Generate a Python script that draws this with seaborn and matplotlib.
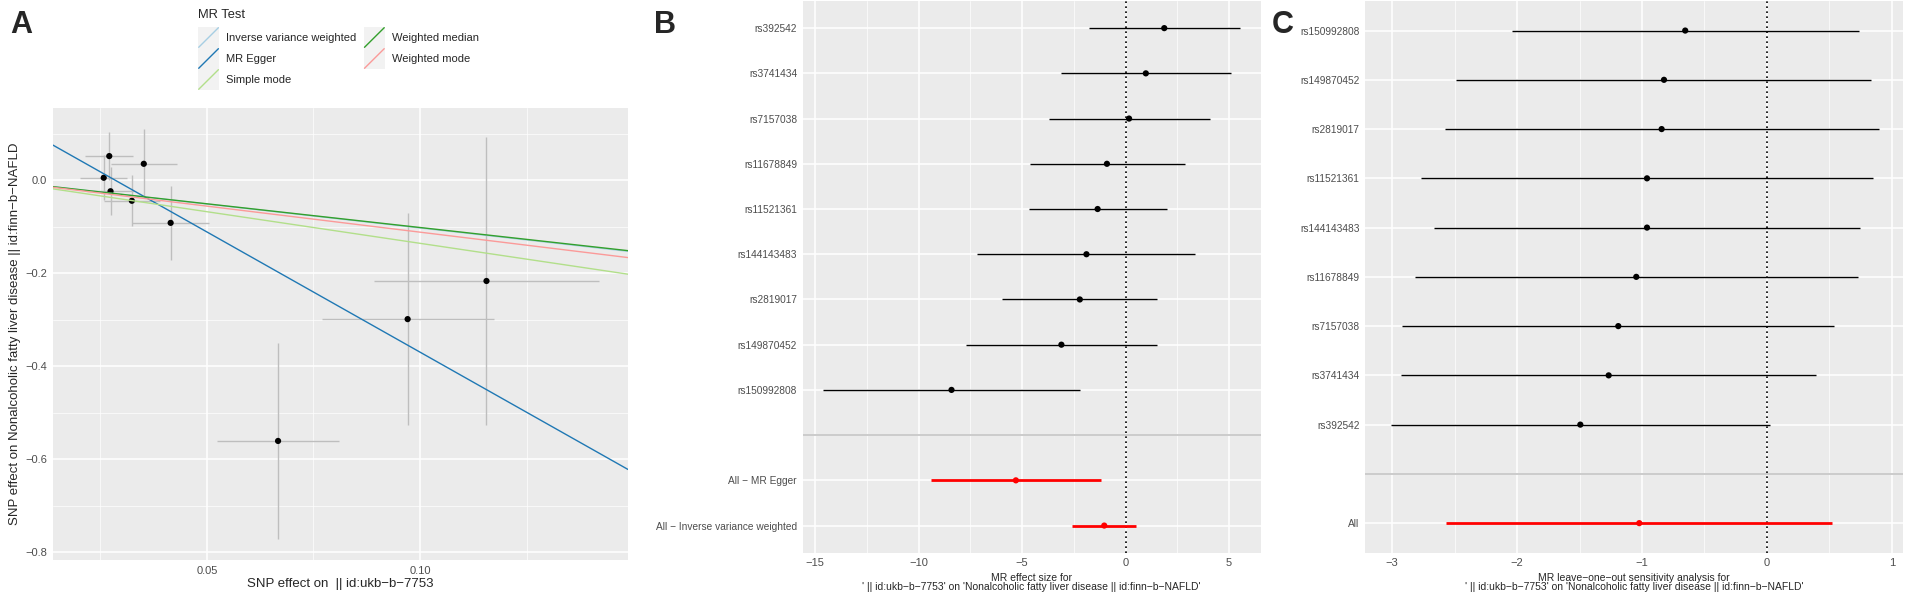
import numpy as np
import matplotlib
matplotlib.use("Agg")
import matplotlib.pyplot as plt
import seaborn as sns
from matplotlib.legend_handler import HandlerBase
from matplotlib.patches import Rectangle
from matplotlib.lines import Line2D

# ---------------- data: panel A (scatter) ----------------
snp_bx = [0.0258, 0.0271, 0.0352, 0.0274, 0.0324, 0.0415, 0.1156, 0.0971, 0.0667]
snp_by = [0.005, 0.0516, 0.035, -0.024, -0.0445, -0.092, -0.217, -0.299, -0.561]
snp_bx_se = [0.0055, 0.0056, 0.0077, 0.0055, 0.0065, 0.0091, 0.0263, 0.0202, 0.0143]
snp_by_se = [0.048, 0.051, 0.074, 0.052, 0.055, 0.079, 0.310, 0.228, 0.211]

methods = ["Inverse variance weighted", "MR Egger", "Simple mode",
           "Weighted median", "Weighted mode"]
method_slope = [-1.03, -5.17, -1.36, -1.02, -1.12]
method_intercept = [0.0, 0.147, 0.0, 0.0, 0.0]

# ---------------- data: panel B (forest) ----------------
b_snps = ["rs392542", "rs3741434", "rs7157038", "rs11678849", "rs11521361",
          "rs144143483", "rs2819017", "rs149870452", "rs150992808"]
b_est = [1.87, 0.98, 0.17, -0.90, -1.35, -1.89, -2.21, -3.10, -8.41]
b_lo = [-1.76, -3.13, -3.71, -4.63, -4.68, -7.16, -5.95, -7.69, -14.62]
b_hi = [5.51, 5.09, 4.06, 2.85, 1.98, 3.37, 1.51, 1.50, -2.18]
b_sum_labels = ["All \u2212 MR Egger", "All \u2212 Inverse variance weighted"]
b_sum_est = [-5.30, -1.03]
b_sum_lo = [-9.41, -2.58]
b_sum_hi = [-1.19, 0.50]

# ---------------- data: panel C (leave-one-out) ----------------
c_snps = ["rs150992808", "rs149870452", "rs2819017", "rs11521361", "rs144143483",
          "rs11678849", "rs7157038", "rs3741434", "rs392542"]
c_est = [-0.654, -0.824, -0.843, -0.960, -0.960, -1.046, -1.190, -1.267, -1.494]
c_lo = [-2.040, -2.486, -2.579, -2.766, -2.667, -2.819, -2.920, -2.931, -3.014]
c_hi = [0.736, 0.837, 0.898, 0.850, 0.746, 0.733, 0.538, 0.397, 0.027]
c_sum_labels = ["All"]
c_sum_est = [-1.022]
c_sum_lo = [-2.568]
c_sum_hi = [0.525]

palette = sns.color_palette("Paired")
method_colors = [palette[0], palette[1], palette[2], palette[3], palette[4]]

# ---------------- style ----------------
sns.set_style("darkgrid", {"axes.facecolor": "#EBEBEB", "grid.color": "white"})
plt.rcParams["font.family"] = ["Liberation Sans", "DejaVu Sans"]
plt.rcParams["axes.unicode_minus"] = True

W, H = 1905, 593
fig = plt.figure(figsize=(W / 100, H / 100), dpi=100)


def add_ax(left, right, top, bottom):
    return fig.add_axes([left / W, 1 - bottom / H, (right - left) / W, (bottom - top) / H])


TICKC = "#4D4D4D"


def style_ax(ax, tick_fs=8):
    for s in ax.spines.values():
        s.set_visible(False)
    ax.set_facecolor("#EBEBEB")
    ax.tick_params(which="major", length=2.6, width=0.8, color="#333333",
                   labelcolor=TICKC, labelsize=tick_fs, pad=1.5)
    ax.tick_params(which="minor", length=0)
    ax.grid(which="major", color="white", lw=1.1)
    ax.grid(which="minor", color="white", lw=0.5)
    ax.set_axisbelow(True)


def fmt(v, nd):
    s = f"{v:.{nd}f}"
    return s.replace("-", "\u2212")


# ================= Panel A =================
axA = add_ax(53, 628, 108, 560)
style_ax(axA)
axA.set_xlim(0.0139, 0.1488)
axA.set_ylim(-0.817, 0.155)
axA.errorbar(snp_bx, snp_by, yerr=snp_by_se, fmt="none", ecolor="#BEBEBE", elinewidth=1.0, capsize=0, zorder=2)
axA.errorbar(snp_bx, snp_by, xerr=snp_bx_se, fmt="none", ecolor="#BEBEBE", elinewidth=1.0, capsize=0, zorder=2)
sns.scatterplot(x=snp_bx, y=snp_by, ax=axA, color="black", s=20, edgecolor="none", zorder=3, legend=False)
handles = []
for m, sl, ic, col in zip(methods, method_slope, method_intercept, method_colors):
    axA.axline((0, ic), slope=sl, color=col, lw=1.0, zorder=4)
    handles.append(Line2D([0], [0], color=col, lw=1.0))
axA.set_xticks([0.05, 0.10])
axA.set_xticklabels([fmt(v, 2) for v in [0.05, 0.10]])
yt = [-0.8, -0.6, -0.4, -0.2, 0.0]
axA.set_yticks(yt)
axA.set_yticklabels([fmt(v, 1) for v in yt])
axA.set_xticks([0.025, 0.075, 0.125], minor=True)
axA.set_yticks([-0.7, -0.5, -0.3, -0.1, 0.1], minor=True)
axA.set_xlabel("SNP effect on  || id:ukb\u2212b\u22127753", fontsize=9.5, labelpad=2)
axA.set_ylabel("SNP effect on Nonalcoholic fatty liver disease || id:finn\u2212b\u2212NAFLD",
               fontsize=9.5, labelpad=3)


class DiagHandler(HandlerBase):
    def create_artists(self, legend, orig_handle, xdescent, ydescent, width, height, fontsize, trans):
        rect = Rectangle((-xdescent, -ydescent), width, height, facecolor="#F2F2F2",
                         edgecolor="none", transform=trans)
        line = Line2D([-xdescent + 0.5, -xdescent + width - 0.5], [-ydescent + 0.5, -ydescent + height - 0.5],
                      color=orig_handle.get_color(), lw=1.0, transform=trans)
        return [rect, line]


fig.text(198 / W, 1 - 14.5 / H, "MR Test", fontsize=9.3, va="center", ha="left")
leg = fig.legend(handles, methods, ncol=2, loc="upper left",
                 bbox_to_anchor=(198 / W, 1 - 27 / H), frameon=False,
                 fontsize=8,
                 handlelength=1.9, handleheight=2.53, labelspacing=0.0,
                 handletextpad=0.6, columnspacing=0.7, borderpad=0, borderaxespad=0,
                 handler_map={Line2D: DiagHandler()})


# ================= Forest helper =================
def forest(ax, snps, est, lo, hi, sum_labels, sum_est, sum_lo, sum_hi, xlim, xt, xminor, xlabel, lab_fs):
    style_ax(ax)
    rows = list(snps) + [""] + list(sum_labels)
    ypos = np.arange(len(rows))
    ysnp = ypos[:len(snps)]
    ysum = ypos[len(snps) + 1:]
    ax.set_xlim(*xlim)
    ax.set_ylim(len(rows) - 1 + 0.6, -0.6)
    ax.axhline(len(snps), color="#BEBEBE", lw=1.1, zorder=1.5)
    ax.axvline(0, color="black", lw=1.2, ls=(0, (1, 2)), zorder=2)
    ax.hlines(ysnp, lo, hi, color="black", lw=1.0, zorder=3)
    sns.scatterplot(x=est, y=ysnp, ax=ax, color="black", s=20, edgecolor="none", zorder=4, legend=False)
    ax.hlines(ysum, sum_lo, sum_hi, color="#FF0000", lw=2.0, zorder=3)
    sns.scatterplot(x=sum_est, y=ysum, ax=ax, color="#FF0000", s=20, edgecolor="none", zorder=4, legend=False)
    ax.set_yticks(ypos)
    ax.set_yticklabels(rows, fontsize=lab_fs)
    ax.set_xticks(xt)
    ax.set_xticklabels([fmt(v, 0) for v in xt])
    ax.set_xticks(xminor, minor=True)
    ax.set_xlabel(xlabel, fontsize=7.5, linespacing=0.95, labelpad=3)
    ax.set_ylabel("")


outcome_txt = "' || id:ukb\u2212b\u22127753' on 'Nonalcoholic fatty liver disease || id:finn\u2212b\u2212NAFLD'"

axB = add_ax(802.7, 1260.7, 1, 552.7)
forest(axB, b_snps, b_est, b_lo, b_hi, b_sum_labels, b_sum_est, b_sum_lo, b_sum_hi,
       (-15.6, 6.53), [-15, -10, -5, 0, 5], [-12.5, -7.5, -2.5, 2.5],
       "MR effect size for\n" + outcome_txt, 7.3)

axC = add_ax(1365.3, 1903, 1, 552.7)
forest(axC, c_snps, c_est, c_lo, c_hi, c_sum_labels, c_sum_est, c_sum_lo, c_sum_hi,
       (-3.216, 1.09), [-3, -2, -1, 0, 1], [-2.5, -1.5, -0.5, 0.5],
       "MR leave\u2212one\u2212out sensitivity analysis for\n" + outcome_txt, 7.3)

# panel letters
for txt, x in [("A", 10), ("B", 654), ("C", 1272)]:
    fig.text(x / W, 1 - 33 / H, txt, fontsize=22, fontweight="bold", va="baseline", ha="left")

fig.savefig("out.png", dpi=100, facecolor="white")
